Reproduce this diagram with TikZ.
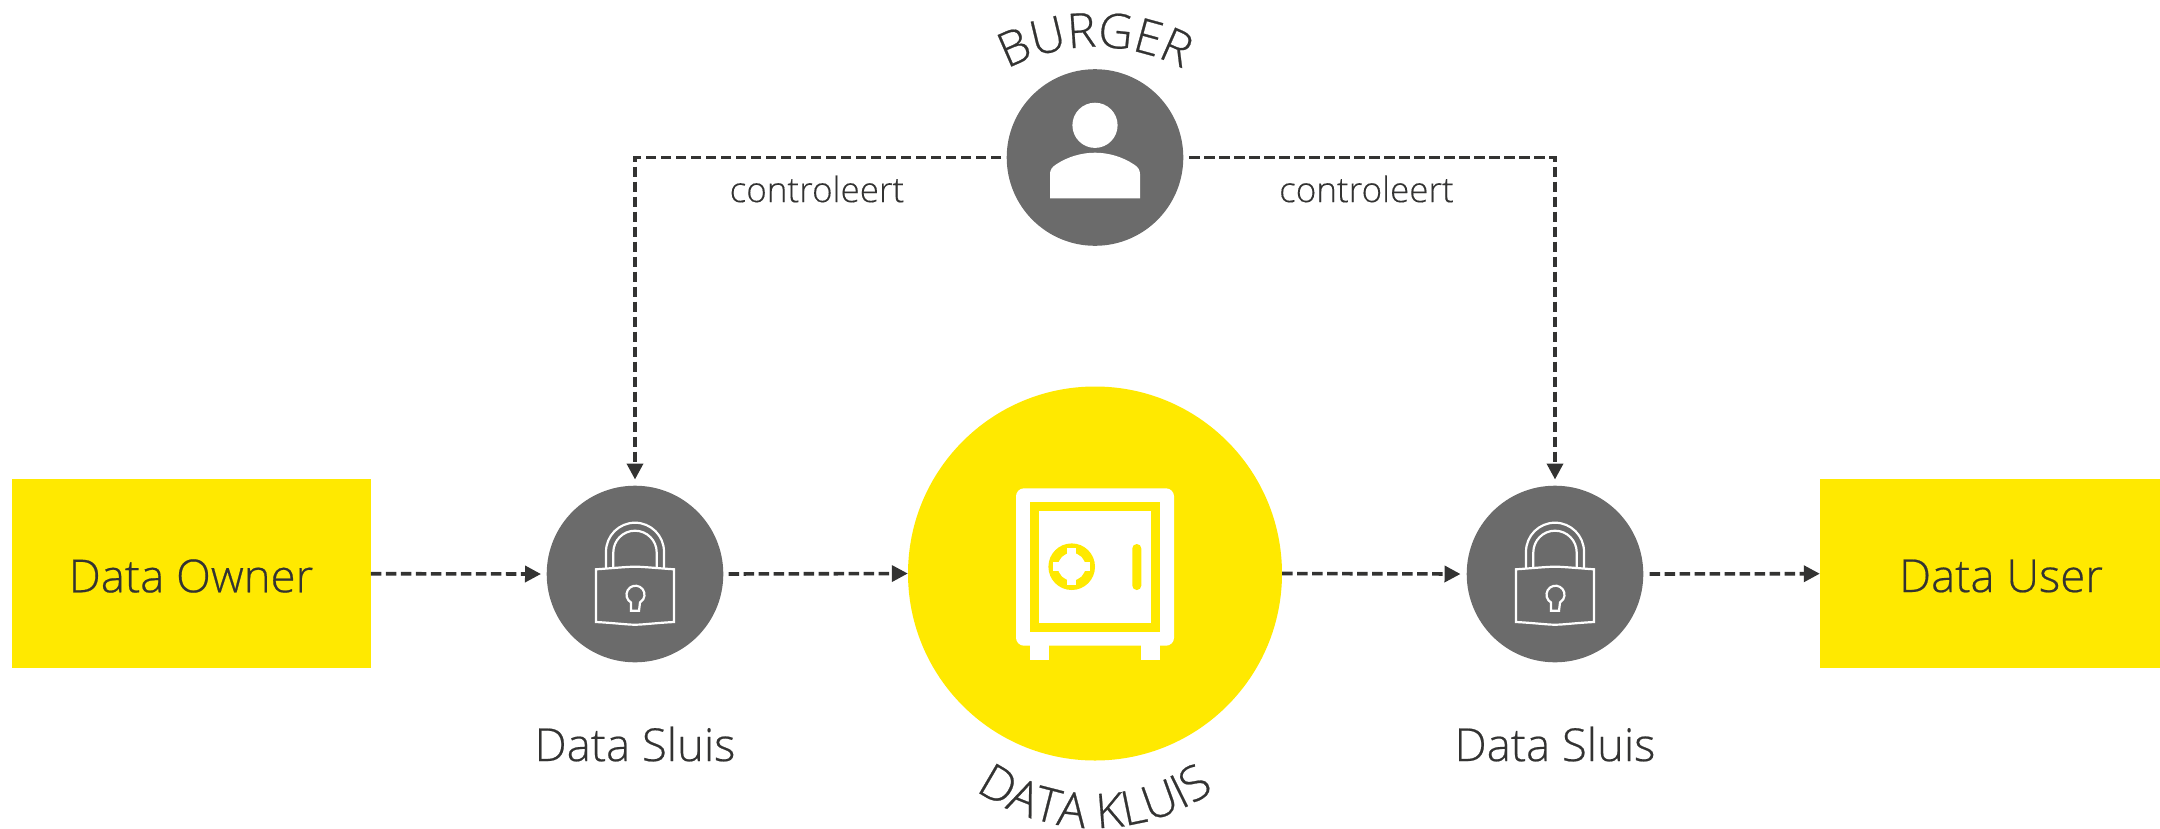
\documentclass[tikz,border=0pt]{standalone}
\usepackage{fontspec}
\setmainfont{Open Sans}[UprightFont=* Light,FakeBold=0.25]
\newfontfamily\lblfont{Open Sans}[UprightFont=* Light,FakeBold=0.45]
\newfontfamily\titlefont{Open Sans}[UprightFont=* Light,FakeBold=0.5]
\usetikzlibrary{arrows.meta,decorations.text}
\definecolor{ylw}{HTML}{FFE900}
\definecolor{gry}{HTML}{6B6B6B}
\definecolor{ink}{HTML}{333332}
\tikzset{
  disc/.style={circle,fill=gry,minimum size=176.6pt,inner sep=0pt},
  bigdisc/.style={circle,fill=ylw,minimum size=374pt,inner sep=0pt},
  party/.style={rectangle,fill=ylw,inner sep=0pt},
  lbl/.style={text=ink,font=\lblfont\fontsize{45.5}{50}\selectfont,inner sep=0pt},
  ctl/.style={text=ink,font=\fontsize{35}{40}\selectfont,inner sep=0pt},
  flow/.style={draw=ink,line width=3.6pt,dash pattern=on 10.5pt off 4.5pt,-{Triangle[length=16pt,width=16pt]}},
  wire/.style={draw=white,line width=2.2pt,fill=none},
}
\begin{document}
\begin{tikzpicture}[x=1pt,y=-1pt]
\useasboundingbox (0,0) rectangle (2160,828);
% nodes
\node[party,minimum width=358.2pt,minimum height=188.6pt] (owner) at (191.5,573.7) {};
\node[party,minimum width=340pt,minimum height=188.6pt] (user) at (1990,573.7) {};
\node[disc] (burger) at (1095,157.5) {};
\node[disc] (lockL) at (635,574) {};
\node[disc] (lockR) at (1555,574) {};
\node[bigdisc] (kluis) at (1095,573.5) {};
\node[lbl] (ownerT) at (191,576) {Data Owner};
\node[lbl] (userT) at (2001,576) {Data User};
\node[lbl] (sluisL) at (635,744) {Data Sluis};
\node[lbl] (sluisR) at (1555,744) {Data Sluis};
\node[ctl] (ctlL) at (817,189) {controleert};
\node[ctl] (ctlR) at (1366.5,189) {controleert};
% connectors
\draw[flow] (owner.east) -- ([xshift=-5.5pt]lockL.west);
\draw[flow,shorten <=5pt] (lockL.east) -- (kluis.west);
\draw[flow] (kluis.east) -- ([xshift=-6pt]lockR.west);
\draw[flow,shorten <=6pt] (lockR.east) -- (user.west);
\draw[flow,shorten <=5.5pt,shorten >=6pt] (burger.west) -| (lockL.north);
\draw[flow,shorten <=5.5pt,shorten >=6pt] (burger.east) -| (lockR.north);
% person icon
\fill[white] (1095,125.3) circle[radius=22.6pt];
\fill[white] (1050,198.3) -- (1050,174) .. controls (1050,170) and (1052,167) .. (1056,164.5) .. controls (1068,156.5) and (1082,152.7) .. (1095,152.7) .. controls (1108,152.7) and (1122,156.5) .. (1134,164.5) .. controls (1138,167) and (1140,170) .. (1140,174) -- (1140,198.3) -- cycle;
% safe icon
\fill[white,rounded corners=8pt] (1016,488.3) rectangle (1174,645.7);
\fill[white] (1030,640) rectangle (1049,660);
\fill[white] (1141,640) rectangle (1160,660);
\fill[ylw] (1030,502) rectangle (1160,632);
\fill[white] (1039.3,511.3) rectangle (1150.7,622.7);
\fill[ylw] (1071.7,566.7) circle[radius=23.3pt];
\fill[white] (1071.7,566.7) circle[radius=13.8pt];
\fill[white] (1053,562) rectangle (1090.4,571.4);
\fill[white] (1067,548) rectangle (1076.4,585.4);
\fill[ylw,rounded corners=4.4pt] (1132.3,544) rectangle (1141.3,590);
% padlocks
\foreach \cx in {635,1555}{
  \begin{scope}[shift={(\cx,0)}]
    \path[wire] (-29,568.7) -- (-29,551.7) arc[start angle=180,end angle=0,radius=29pt] -- (29,568.7);
    \path[wire] (-21.7,568) -- (-21.7,552.4) arc[start angle=180,end angle=0,radius=21.7pt] -- (21.7,568);
    \path[wire,fill=gry] (-39,569.3) .. controls (-20,568) and (-8,566.7) .. (0,566.7) .. controls (8,566.7) and (20,568) .. (39,569.3) -- (39,622) .. controls (20,623) and (8,624.7) .. (0,624.7) .. controls (-8,624.7) and (-20,623) .. (-39,622) -- cycle;
    \path[wire] (-4,610.7) -- (-4,602.5) arc[start angle=240,end angle=-60,radius=9pt] -- (4,610.7) -- cycle;
  \end{scope}
}
% curved titles
\path[decorate,decoration={text along path,text align=center,text color=ink,text={|\titlefont\fontsize{48}{52}\selectfont|BURGER}}]
  ({1095+186*cos(125)},{233-186*sin(125)}) arc[start angle=125,end angle=55,radius=186pt];
\path[decorate,decoration={text along path,text align=center,text color=ink,text={|\titlefont\fontsize{48}{52}\selectfont|DATA KLUIS}}]
  ({1095+208*cos(222)},{620-208*sin(222)}) arc[start angle=222,end angle=318,radius=208pt];
\end{tikzpicture}
\end{document}
